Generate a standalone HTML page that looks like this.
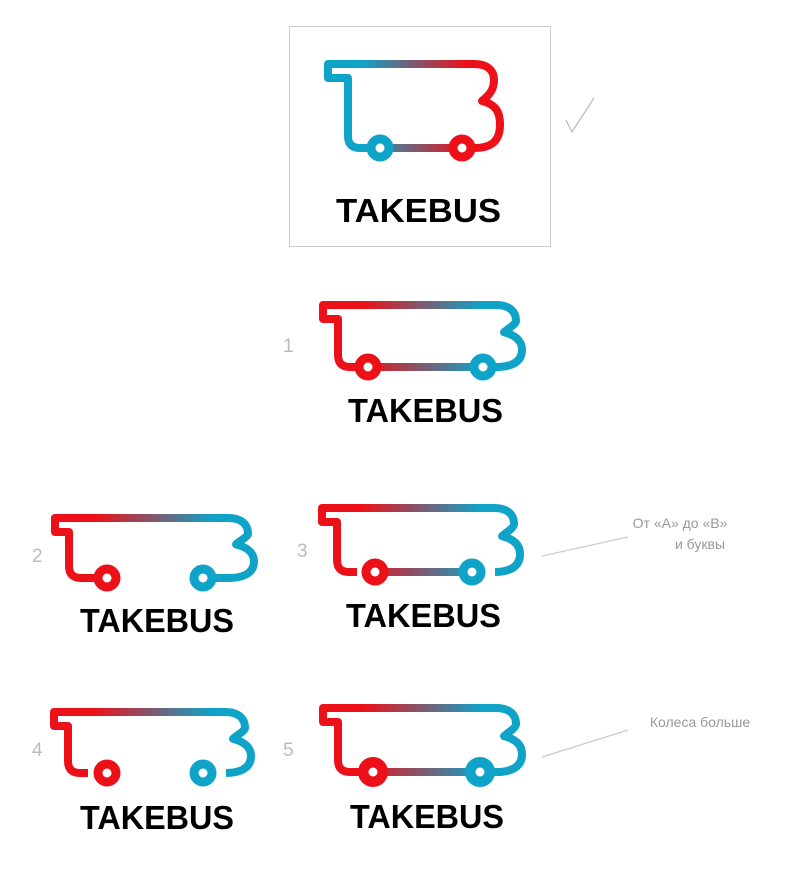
<!DOCTYPE html>
<html><head><meta charset="utf-8"><style>
html,body{margin:0;padding:0;background:#fff;width:800px;height:885px;overflow:hidden}
svg{display:block}
.t{font-family:"Liberation Sans",sans-serif;font-weight:bold;fill:#000}
.n{font-family:"Liberation Sans",sans-serif;fill:#bbb;font-size:19px}
.a{font-family:"Liberation Sans","DejaVu Sans",sans-serif;fill:#999;font-size:14px}
</style></head><body>
<svg id="s" width="800" height="885" xmlns="http://www.w3.org/2000/svg">
<rect x="289.5" y="26.5" width="261" height="220" fill="none" stroke="#ccc" stroke-width="1"/>
<path d="M566 120 L572 132 L594 98" fill="none" stroke="#bbb" stroke-width="1.2"/>
<text class="n" x="283" y="352">1</text>
<text class="n" x="32" y="562">2</text>
<text class="n" x="297" y="557">3</text>
<text class="n" x="32" y="756">4</text>
<text class="n" x="283" y="756">5</text>
<text class="a" x="680" y="528" text-anchor="middle">От «А» до «В»</text>
<text class="a" x="700" y="549" text-anchor="middle">и буквы</text>
<line x1="542" y1="556" x2="628" y2="537" stroke="#ccc" stroke-width="1.2"/>
<text class="a" x="700" y="727" text-anchor="middle">Колеса больше</text>
<line x1="542" y1="757" x2="628" y2="730" stroke="#ccc" stroke-width="1.2"/>
</svg>
<script>
var s=document.getElementById('s'),ns='http://www.w3.org/2000/svg',id=0;
var RED='#ec1118',CY='#0fa3c8';
function el(t,a){var e=document.createElementNS(ns,t);for(var k in a)e.setAttribute(k,a[k]);s.appendChild(e);return e;}
function bus(o){
 var L=o.L,T=o.T,R=o.R-3,B=o.B,nx=o.nx,ny=T+14,h=B-T;
 var lx=R-18, ly=T+0.44*h, sw=8;
 var g='g'+(id++);
 var gr=document.createElementNS(ns,'linearGradient');
 var at={id:g,gradientUnits:'userSpaceOnUse',x1:L,y1:0,x2:R,y2:0};for(var k in at)gr.setAttribute(k,at[k]);
 var c1=o.rev?RED:CY,c2=o.rev?CY:RED;
 [[0.2,c1],[0.8,c2]].forEach(function(p){var st=document.createElementNS(ns,'stop');st.setAttribute('offset',p[0]);st.setAttribute('stop-color',p[1]);gr.appendChild(st);});
 var d=document.createElementNS(ns,'defs');d.appendChild(gr);s.appendChild(d);
 var my=(ly+B)/2;
 var p='M'+nx+','+(B-12)+' V'+ny+' H'+L+' V'+T+' H'+(R-26)+
 ' C'+(R-12)+','+T+' '+(R-6)+','+(T+7)+' '+(R-6)+','+(T+16)+
 ' C'+(R-6)+','+(ly-8)+' '+(lx+3)+','+(ly-3)+' '+lx+','+ly+
 ' C'+(lx+12)+','+(ly+3)+' '+R+','+(ly+9)+' '+R+','+my+
 ' C'+R+','+(B-4)+' '+(R-12)+','+B+' '+(R-26)+','+B+
 ' H'+(nx+12)+' Q'+nx+','+B+' '+nx+','+(B-12)+'Z';
 el('path',{d:p,fill:'none',stroke:'url(#'+g+')','stroke-width':sw,'stroke-linejoin':'round','stroke-linecap':'round'});
 (o.gaps||[]).forEach(function(q){el('rect',{x:q[0],y:B-6,width:q[1]-q[0],height:12,fill:'#fff'});});
 var wr=o.wr||13.5,hr=4.5;
 o.w.forEach(function(w,i){var col=(i==0)==!o.rev?CY:RED;
  el('circle',{cx:w,cy:B,r:(wr+hr)/2,fill:'#fff',stroke:col,'stroke-width':wr-hr});
 });
 var t=el('text',{class:'t',x:o.tx,y:o.ty,'font-size':33,textLength:o.tw,lengthAdjust:'spacingAndGlyphs'});t.textContent='TAKEBUS';
}
bus({L:328,T:64,R:503,B:148,nx:348,w:[380,462],tx:336,ty:222,tw:165});
bus({L:323,T:305,R:525,B:367,nx:338,w:[368,483],rev:1,tx:348,ty:422,tw:155});
bus({L:55,T:518,R:257,B:578,nx:69,w:[107,203],rev:1,gaps:[[118,192]],tx:80,ty:632,tw:154});
bus({L:322,T:508,R:523,B:572,nx:337,w:[375,472],rev:1,gaps:[[357,362],[484,495]],tx:346,ty:627,tw:155});
bus({L:54,T:712,R:254,B:773,nx:68,w:[107,203],rev:1,gaps:[[88,94],[116,194],[216,226]],tx:80,ty:829,tw:154});
bus({L:323,T:708,R:525,B:772,nx:338,w:[373,480],wr:15,rev:1,tx:350,ty:828,tw:154});
</script>
</body></html>
